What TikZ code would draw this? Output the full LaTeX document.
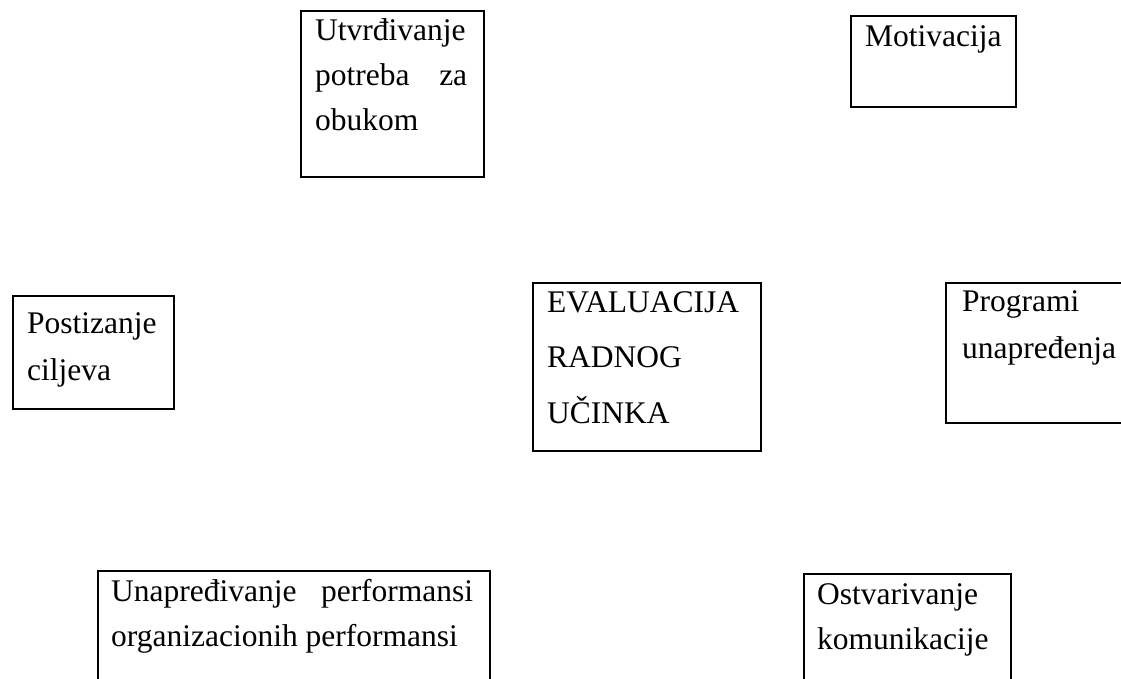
\documentclass[tikz,border=0pt]{standalone}
\usepackage{fontspec}
\setmainfont{Liberation Serif}
\usetikzlibrary{positioning,calc}
\hyphenpenalty=10000
\exhyphenpenalty=10000

\begin{document}
\begin{tikzpicture}[x=1pt,y=-1pt,
  okvir/.style={draw,line width=2pt,inner sep=0pt,anchor=north west},
  tekst/.style={inner sep=0pt,anchor=base west,align=justify,font=\fontsize{31.5}{45}\selectfont}]
\useasboundingbox (0,0) rectangle (1121,679);
\clip (0,0) rectangle (1121,679);
% Okviri
\node[okvir,minimum width=183pt,minimum height=166pt] (utvrdivanje) at (300,10) {};
\node[okvir,minimum width=165pt,minimum height=91pt] (motivacija) at (850,15) {};
\node[okvir,minimum width=161pt,minimum height=113pt] (postizanje) at (12,295) {};
\node[okvir,minimum width=228pt,minimum height=168pt] (evaluacija) at (532,282) {};
\node[okvir,minimum width=200pt,minimum height=140pt] (programi) at (945,282) {};
\node[okvir,minimum width=392pt,minimum height=140pt] (unapredivanje) at (97,570) {};
\node[okvir,minimum width=207pt,minimum height=140pt] (ostvarivanje) at (803,573) {};
% Tekst
\node[tekst,text width=152pt] (utvrdivanjeT) at ([shift={(15,31)}]utvrdivanje.north west) {Utvrđivanje potreba za obukom};
\node[tekst] (motivacijaT) at ([shift={(15,32)}]motivacija.north west) {Motivacija};
\node[tekst,text width=135pt,font=\fontsize{31.5}{47}\selectfont] (postizanjeT) at ([shift={(15,38)}]postizanje.north west) {Postizanje ciljeva};
\node[tekst,text width=200pt,font=\fontsize{31.5}{55.5}\selectfont] (evaluacijaT) at ([shift={(15,30)}]evaluacija.north west) {EVALUACIJA RADNOG UČINKA};
\node[tekst,text width=156pt,font=\fontsize{31.5}{47}\selectfont] (programiT) at ([shift={(17,29)}]programi.north west) {Programi unapređenja};
\node[tekst,text width=362pt] (unapredivanjeT) at ([shift={(14,31)}]unapredivanje.north west) {Unapređivanje performansi organizacionih performansi};
\node[tekst,text width=175pt] (ostvarivanjeT) at ([shift={(14,31)}]ostvarivanje.north west) {Ostvarivanje komunikacije};

\end{tikzpicture}
\end{document}
